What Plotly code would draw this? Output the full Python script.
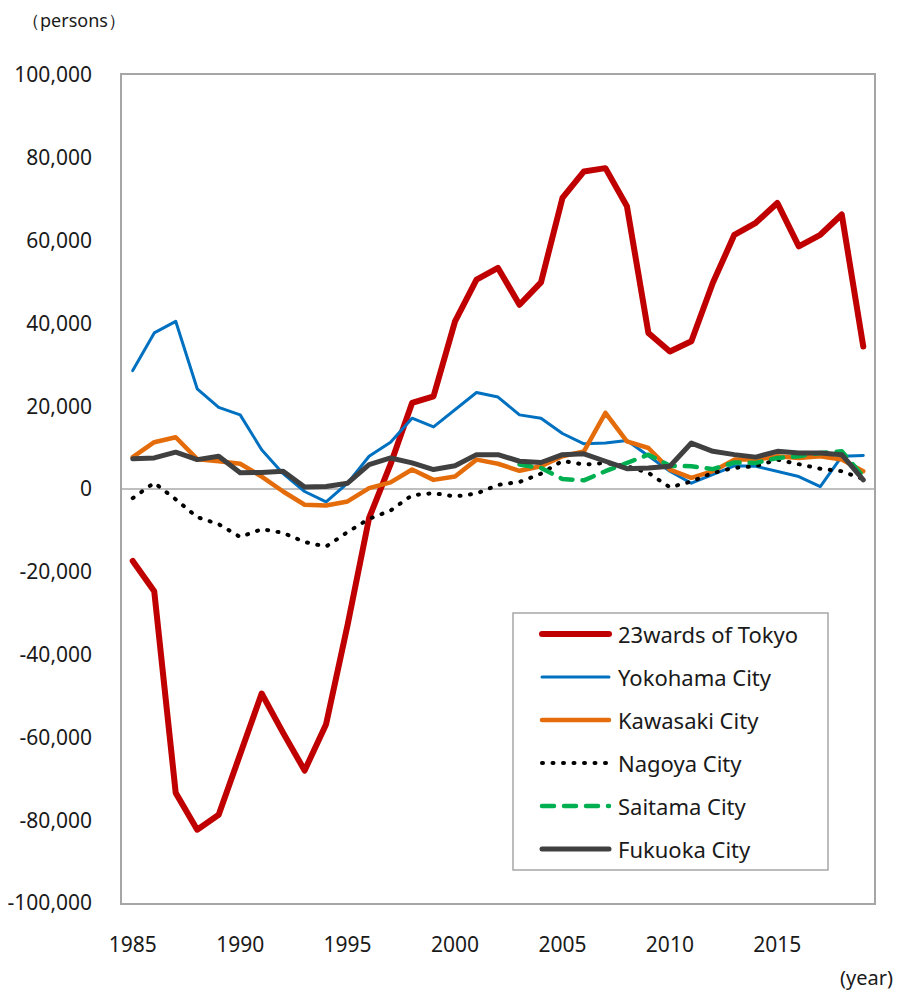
import plotly.graph_objects as go

# Net migration (persons) by year for major cities
years = list(range(1985, 2020))

tokyo = [-17400, -24700, -73400, -82300, -78700, -64200, -49400, -58900, -68000, -56800,
         -32800, -7000, 6000, 20800, 22400, 40500, 50600, 53400, 44500, 49900,
         70300, 76700, 77500, 68300, 37700, 33200, 35700, 49800, 61400, 64300,
         69100, 58600, 61400, 66300, 34400]
yokohama = [28600, 37700, 40500, 24200, 19700, 17900, 9500, 3700, -600, -3100,
            1400, 7900, 11300, 17100, 15000, 19200, 23300, 22200, 17900, 17100,
            13400, 10900, 11100, 11700, 8000, 4300, 1400, 3500, 5600, 5500,
            4300, 3000, 600, 7900, 8100]
kawasaki = [7700, 11300, 12500, 7200, 6700, 6100, 3000, -600, -3800, -4000,
            -3000, 200, 1600, 4700, 2200, 3000, 7100, 6100, 4400, 5500,
            7900, 9100, 18400, 11500, 9900, 4700, 2700, 4300, 7100, 7100,
            7900, 7500, 7900, 7100, 4300]
nagoya = [-2200, 1500, -2500, -6800, -8500, -11600, -9700, -10600, -12800, -13900,
          -10400, -7200, -5200, -1500, -1000, -1800, -1100, 1000, 1700, 3700,
          6800, 5900, 6300, 5500, 3900, 400, 1800, 3900, 5100, 5500,
          7100, 6000, 4900, 4300, 2400]
saitama = [None] * 18 + [5900, 5100, 2400, 2100, 4300, 6300, 8300, 5600, 5500, 4800,
                         6400, 6300, 7500, 7900, 8700, 9100, 3000]
fukuoka = [7300, 7500, 8900, 7100, 7900, 3900, 4000, 4300, 500, 600,
           1400, 5900, 7500, 6300, 4700, 5600, 8300, 8300, 6700, 6400,
           8300, 8500, 6700, 4900, 5100, 5500, 11100, 9100, 8300, 7700,
           9100, 8700, 8700, 8300, 2200]

series_names = ["23wards of Tokyo", "Yokohama City", "Kawasaki City",
                "Nagoya City", "Saitama City", "Fukuoka City"]
series_values = [tokyo, yokohama, kawasaki, nagoya, saitama, fukuoka]

x_ticks = [1985, 1990, 1995, 2000, 2005, 2010, 2015]
y_ticks = list(range(-100000, 100001, 20000))

colors = ["#C00000", "#0070C0", "#E46C0A", "#000000", "#00B050", "#404040"]
widths = [6, 3, 4.5, 4, 4.5, 5]
dashes = ["solid", "solid", "solid", "1px,9.5px", "12px,10px", "solid"]

FONT = "Noto Sans"
TXT = "#1a1a1a"
FRAME = "#A6A6A6"

fig = go.Figure()
for name, vals, c, w, d in zip(series_names, series_values, colors, widths, dashes):
    fig.add_trace(go.Scatter(
        x=years, y=vals, name=name, mode="lines",
        line=dict(color=c, width=w, dash=d),
        connectgaps=False, showlegend=False, hoverinfo="x+y+name",
    ))

# Page geometry (pixels) used to place the boxed legend
W, H = 902, 993
ML, MR, MT, MB = 122, 28, 75, 90
PW, PH = W - ML - MR, H - MT - MB


def px_x(px):
    return (px - ML) / PW


def px_y(py):
    return (H - MB - py) / PH


shapes = [dict(type="rect", xref="paper", yref="paper",
               x0=px_x(513), x1=px_x(828), y0=px_y(870), y1=px_y(613),
               line=dict(color=FRAME, width=1.5), fillcolor="white", layer="above")]
annotations = []
for i, (name, c, w, d) in enumerate(zip(series_names, colors, widths, dashes)):
    ry = 634 + i * 43
    shapes.append(dict(type="line", xref="paper", yref="paper",
                       x0=px_x(542), x1=px_x(609), y0=px_y(ry), y1=px_y(ry),
                       line=dict(color=c, width=w, dash=d), layer="above"))
    annotations.append(dict(xref="paper", yref="paper", x=px_x(616), y=px_y(ry),
                            text=name, showarrow=False, xanchor="left", yanchor="middle",
                            font=dict(family=FONT, size=22, color=TXT)))

annotations.append(dict(xref="paper", yref="paper", x=px_x(74), y=px_y(20),
                        text="（persons）", showarrow=False, xanchor="center", yanchor="middle",
                        font=dict(family=FONT, size=18, color=TXT)))
annotations.append(dict(xref="paper", yref="paper", x=px_x(866), y=px_y(977),
                        text="(year)", showarrow=False, xanchor="center", yanchor="middle",
                        font=dict(family=FONT, size=20, color=TXT)))

fig.update_layout(
    width=W, height=H,
    margin=dict(l=ML, r=MR, t=MT, b=MB, autoexpand=False),
    paper_bgcolor="white", plot_bgcolor="white",
    font=dict(family=FONT, size=21, color=TXT),
    shapes=shapes, annotations=annotations,
    showlegend=False,
)
fig.update_xaxes(
    range=[1984.5, 2019.5], tickvals=x_ticks, ticktext=[str(t) for t in x_ticks],
    showgrid=False, zeroline=False, ticks="",
    showline=True, mirror=True, linecolor=FRAME, linewidth=1.5,
    tickfont=dict(family=FONT, size=21, color=TXT), ticklabelstandoff=22,
)
fig.update_yaxes(
    range=[-100000, 100000], tickvals=y_ticks, ticktext=[f"{v:,}" for v in y_ticks],
    showgrid=False, zeroline=True, zerolinecolor="#BFBFBF", zerolinewidth=2, ticks="",
    showline=True, mirror=True, linecolor=FRAME, linewidth=1.5,
    tickfont=dict(family=FONT, size=21, color=TXT), ticklabelstandoff=24,
)

post = """
var gd = document.getElementById('{plot_id}');
gd.querySelectorAll('.scatterlayer path.js-line').forEach(function(p){
  p.style.strokeLinejoin = 'round'; p.style.strokeLinecap = 'round';
});
gd.querySelectorAll('.shapelayer path').forEach(function(p){
  p.style.strokeLinecap = 'round';
});
"""
fig.write_html("out.html", post_script=post)
